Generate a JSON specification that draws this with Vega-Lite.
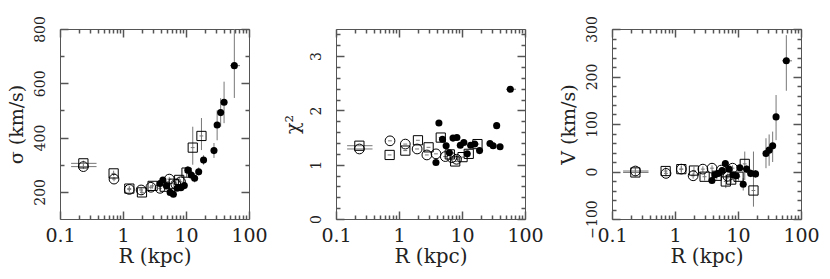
{
  "$schema": "https://vega.github.io/schema/vega-lite/v6.json",
  "padding": {"left": 6, "top": 15, "right": 5, "bottom": 0},
  "bounds": "flush",
  "spacing": 87,
  "config": {
    "view": {"stroke": "#555", "strokeWidth": 1},
    "axis": {
      "domain": false, "grid": false,
      "labelFont": "DejaVu Serif", "labelColor": "#222",
      "titleFont": "DejaVu Serif", "titleFontWeight": "normal", "titleColor": "#222",
      "tickColor": "#555", "tickWidth": 1.5, "labelOverlap": false, "labelFlush": false
    }
  },
  "datasets": {
    "pts": [
      {"s":"open","R":0.235,"Rlo":0.15,"Rhi":0.38,"sig":293,"sigLo":285,"sigHi":301,"chi":1.29,"V":1,"VLo":-5,"VHi":7},
      {"s":"open","R":0.72,"Rlo":0.67,"Rhi":0.77,"sig":247,"sigLo":239,"sigHi":255,"chi":1.44,"V":-4,"VLo":-10,"VHi":2},
      {"s":"open","R":1.26,"Rlo":1.17,"Rhi":1.35,"sig":209,"sigLo":201,"sigHi":217,"chi":1.38,"V":5,"VLo":-1,"VHi":11},
      {"s":"open","R":1.94,"Rlo":1.80,"Rhi":2.08,"sig":207,"sigLo":199,"sigHi":215,"chi":1.29,"V":-9,"VLo":-15,"VHi":-3},
      {"s":"open","R":2.77,"Rlo":2.58,"Rhi":2.96,"sig":217,"sigLo":209,"sigHi":225,"chi":1.18,"V":5,"VLo":-1,"VHi":11},
      {"s":"open","R":3.87,"Rlo":3.60,"Rhi":4.14,"sig":213,"sigLo":205,"sigHi":221,"chi":1.20,"V":7,"VLo":1,"VHi":13},
      {"s":"open","R":5.43,"Rlo":5.05,"Rhi":5.81,"sig":247,"sigLo":239,"sigHi":255,"chi":1.15,"V":3,"VLo":-3,"VHi":9},
      {"s":"open","R":6.9,"Rlo":6.42,"Rhi":7.38,"sig":228,"sigLo":220,"sigHi":236,"chi":1.13,"V":-10,"VLo":-16,"VHi":-4},
      {"s":"open","R":8.2,"Rlo":7.63,"Rhi":8.77,"sig":237,"sigLo":229,"sigHi":245,"chi":1.10,"V":7,"VLo":1,"VHi":13},
      {"s":"box","R":0.235,"Rlo":0.15,"Rhi":0.38,"sig":305,"sigLo":295,"sigHi":315,"chi":1.35,"V":-2,"VLo":-10,"VHi":6},
      {"s":"box","R":0.71,"Rlo":0.66,"Rhi":0.76,"sig":268,"sigLo":258,"sigHi":278,"chi":1.18,"V":1,"VLo":-7,"VHi":9},
      {"s":"box","R":1.26,"Rlo":1.17,"Rhi":1.35,"sig":212,"sigLo":202,"sigHi":222,"chi":1.26,"V":5,"VLo":-3,"VHi":13},
      {"s":"box","R":2.0,"Rlo":1.86,"Rhi":2.14,"sig":198,"sigLo":188,"sigHi":208,"chi":1.45,"V":2,"VLo":-6,"VHi":10},
      {"s":"box","R":2.95,"Rlo":2.74,"Rhi":3.16,"sig":222,"sigLo":212,"sigHi":232,"chi":1.32,"V":-11,"VLo":-19,"VHi":-3},
      {"s":"box","R":4.6,"Rlo":4.28,"Rhi":4.92,"sig":219,"sigLo":209,"sigHi":229,"chi":1.50,"V":-9,"VLo":-17,"VHi":-1},
      {"s":"box","R":6.4,"Rlo":5.95,"Rhi":6.85,"sig":230,"sigLo":220,"sigHi":240,"chi":1.19,"V":-21,"VLo":-35,"VHi":-7},
      {"s":"box","R":7.8,"Rlo":7.25,"Rhi":8.35,"sig":244,"sigLo":234,"sigHi":254,"chi":1.06,"V":-17,"VLo":-25,"VHi":-9},
      {"s":"box","R":10.2,"Rlo":9.49,"Rhi":10.9,"sig":271,"sigLo":255,"sigHi":290,"chi":1.14,"V":-11,"VLo":-19,"VHi":-3},
      {"s":"box","R":12.8,"Rlo":11.9,"Rhi":13.7,"sig":363,"sigLo":300,"sigHi":440,"chi":1.20,"V":16,"VLo":-18,"VHi":42},
      {"s":"box","R":17.6,"Rlo":16.4,"Rhi":18.8,"sig":406,"sigLo":354,"sigHi":472,"chi":1.38,"V":-40,"VLo":-74,"VHi":42},
      {"s":"dot","R":3.86,"Rlo":3.67,"Rhi":4.05,"sig":231,"sigLo":225,"sigHi":237,"chi":1.04,"V":-19,"VLo":-25,"VHi":-13},
      {"s":"dot","R":4.3,"Rlo":4.09,"Rhi":4.52,"sig":244,"sigLo":238,"sigHi":250,"chi":1.77,"V":-7,"VLo":-13,"VHi":-1},
      {"s":"dot","R":4.9,"Rlo":4.66,"Rhi":5.15,"sig":222,"sigLo":216,"sigHi":228,"chi":1.47,"V":-4,"VLo":-10,"VHi":2},
      {"s":"dot","R":5.6,"Rlo":5.32,"Rhi":5.88,"sig":198,"sigLo":192,"sigHi":204,"chi":1.35,"V":2,"VLo":-4,"VHi":8},
      {"s":"dot","R":6.3,"Rlo":5.99,"Rhi":6.62,"sig":191,"sigLo":185,"sigHi":197,"chi":1.22,"V":17,"VLo":11,"VHi":23},
      {"s":"dot","R":7.2,"Rlo":6.84,"Rhi":7.56,"sig":213,"sigLo":207,"sigHi":219,"chi":1.49,"V":5,"VLo":-1,"VHi":11},
      {"s":"dot","R":8.3,"Rlo":7.89,"Rhi":8.72,"sig":215,"sigLo":209,"sigHi":221,"chi":1.50,"V":-7,"VLo":-13,"VHi":-1},
      {"s":"dot","R":9.4,"Rlo":8.93,"Rhi":9.87,"sig":223,"sigLo":217,"sigHi":229,"chi":1.36,"V":-9,"VLo":-15,"VHi":-3},
      {"s":"dot","R":10.7,"Rlo":10.2,"Rhi":11.2,"sig":280,"sigLo":265,"sigHi":295,"chi":1.41,"V":8,"VLo":2,"VHi":14},
      {"s":"dot","R":12.1,"Rlo":11.5,"Rhi":12.7,"sig":262,"sigLo":245,"sigHi":280,"chi":1.20,"V":-27,"VLo":-40,"VHi":-14},
      {"s":"dot","R":13.7,"Rlo":13.0,"Rhi":14.4,"sig":250,"sigLo":235,"sigHi":268,"chi":1.36,"V":5,"VLo":-3,"VHi":13},
      {"s":"dot","R":15.9,"Rlo":15.1,"Rhi":16.7,"sig":274,"sigLo":260,"sigHi":290,"chi":1.38,"V":-4,"VLo":-12,"VHi":4},
      {"s":"dot","R":19.0,"Rlo":18.1,"Rhi":19.9,"sig":317,"sigLo":300,"sigHi":335,"chi":1.26,"V":-5,"VLo":-13,"VHi":3},
      {"s":"dot","R":27.8,"Rlo":26.4,"Rhi":29.2,"sig":352,"sigLo":325,"sigHi":380,"chi":1.39,"V":38,"VLo":7,"VHi":70},
      {"s":"dot","R":31.2,"Rlo":29.6,"Rhi":32.8,"sig":446,"sigLo":390,"sigHi":500,"chi":1.35,"V":45,"VLo":12,"VHi":78},
      {"s":"dot","R":35.5,"Rlo":33.7,"Rhi":37.3,"sig":492,"sigLo":440,"sigHi":545,"chi":1.72,"V":54,"VLo":20,"VHi":84},
      {"s":"dot","R":40.2,"Rlo":38.2,"Rhi":42.2,"sig":530,"sigLo":453,"sigHi":606,"chi":1.33,"V":115,"VLo":66,"VHi":161},
      {"s":"dot","R":58.5,"Rlo":50,"Rhi":72,"sig":665,"sigLo":546,"sigHi":820,"chi":2.39,"V":233,"VLo":170,"VHi":287}
    ]
  },
  "hconcat": [
    {
      "width": 189, "height": 190,
      "data": {"name": "pts"},
      "resolve": {"axis": {"x": "independent", "y": "independent"}},
      "layer": [
        {"mark": {"type": "rule", "color": "#777", "strokeWidth": 1, "clip": true},
         "encoding": {
           "x": {"field": "Rlo", "type": "quantitative", "scale": {"type": "log", "domain": [0.1, 100], "nice": false},
                 "axis": {"orient": "bottom", "offset": -8, "title": "R (kpc)", "values": [0.1, 1, 10, 100], "labelExpr": "datum.value == 0.1 ? '0.1' : format(datum.value, 'd')",
                          "tickSize": 8, "labelPadding": 7, "titlePadding": 1, "labelFontSize": 19, "titleFontSize": 20}},
           "x2": {"field": "Rhi"},
           "y": {"field": "sig", "type": "quantitative", "scale": {"domain": [100, 800], "nice": false, "zero": false},
                 "axis": {"orient": "left", "offset": -8, "title": "σ (km/s)", "values": [200, 400, 600, 800], "labelExpr": "format(datum.value, 'd')",
                          "labelAngle": 270, "labelAlign": "center", "labelBaseline": "bottom",
                          "tickSize": 8, "labelPadding": 13, "titlePadding": 7, "labelFontSize": 14, "titleFontSize": 19}}
         }},
        {"mark": {"type": "rule", "color": "#777", "strokeWidth": 1, "clip": true},
         "encoding": {
           "x": {"field": "R", "type": "quantitative", "scale": {"type": "log", "domain": [0.1, 100], "nice": false},
                 "axis": {"orient": "top", "offset": -8, "title": null, "labels": false, "values": [0.1, 1, 10, 100], "tickSize": 8}},
           "y": {"field": "sigLo", "type": "quantitative", "scale": {"domain": [100, 800], "nice": false, "zero": false},
                 "axis": {"orient": "right", "offset": -8, "title": null, "labels": false, "values": [200, 400, 600, 800], "tickSize": 8}},
           "y2": {"field": "sigHi"}
         }},
        {"transform": [{"filter": "datum.s == 'open'"}],
         "mark": {"type": "point", "shape": "circle", "size": 95, "filled": false, "stroke": "#000", "strokeWidth": 1, "opacity": 1, "clip": true},
         "encoding": {
           "x": {"field": "R", "type": "quantitative", "scale": {"type": "log", "domain": [0.1, 100], "nice": false},
                 "axis": {"orient": "bottom", "offset": -4, "title": null, "labels": false, "values": [0.2,0.3,0.4,0.5,0.6,0.7,0.8,0.9,2,3,4,5,6,7,8,9,20,30,40,50,60,70,80,90], "tickSize": 4}},
           "y": {"field": "sig", "type": "quantitative", "scale": {"domain": [100, 800], "nice": false, "zero": false},
                 "axis": {"orient": "left", "offset": -4, "title": null, "labels": false, "values": [300, 500, 700], "tickSize": 4}}
         }},
        {"transform": [{"filter": "datum.s == 'box'"}],
         "mark": {"type": "point", "shape": "square", "size": 85, "filled": false, "stroke": "#000", "strokeWidth": 1, "opacity": 1, "clip": true},
         "encoding": {
           "x": {"field": "R", "type": "quantitative", "scale": {"type": "log", "domain": [0.1, 100], "nice": false},
                 "axis": {"orient": "top", "offset": -4, "title": null, "labels": false, "values": [0.2,0.3,0.4,0.5,0.6,0.7,0.8,0.9,2,3,4,5,6,7,8,9,20,30,40,50,60,70,80,90], "tickSize": 4}},
           "y": {"field": "sig", "type": "quantitative", "scale": {"domain": [100, 800], "nice": false, "zero": false},
                 "axis": {"orient": "right", "offset": -4, "title": null, "labels": false, "values": [300, 500, 700], "tickSize": 4}}
         }},
        {"transform": [{"filter": "datum.s == 'dot'"}],
         "mark": {"type": "point", "shape": "circle", "size": 50, "filled": true, "fill": "#000", "opacity": 1, "clip": true},
         "encoding": {
           "x": {"field": "R", "type": "quantitative", "scale": {"type": "log", "domain": [0.1, 100], "nice": false}, "axis": null},
           "y": {"field": "sig", "type": "quantitative", "scale": {"domain": [100, 800], "nice": false, "zero": false}, "axis": null}
         }}
      ]
    },
    {
      "width": 189, "height": 190,
      "data": {"name": "pts"},
      "resolve": {"axis": {"x": "independent", "y": "independent"}},
      "layer": [
        {"mark": {"type": "rule", "color": "#777", "strokeWidth": 1, "clip": true},
         "encoding": {
           "x": {"field": "Rlo", "type": "quantitative", "scale": {"type": "log", "domain": [0.1, 100], "nice": false},
                 "axis": {"orient": "bottom", "offset": -8, "title": "R (kpc)", "values": [0.1, 1, 10, 100], "labelExpr": "datum.value == 0.1 ? '0.1' : format(datum.value, 'd')",
                          "tickSize": 8, "labelPadding": 7, "titlePadding": 1, "labelFontSize": 19, "titleFontSize": 20}},
           "x2": {"field": "Rhi"},
           "y": {"field": "chi", "type": "quantitative", "scale": {"domain": [0, 3.5], "nice": false, "zero": false},
                 "axis": {"orient": "left", "offset": -8, "title": "χ²", "values": [0, 1, 2, 3], "labelExpr": "format(datum.value, 'd')",
                          "labelAngle": 270, "labelAlign": "center", "labelBaseline": "bottom",
                          "tickSize": 8, "labelPadding": 13, "titlePadding": 7, "labelFontSize": 14, "titleFontSize": 19}}
         }},
        {"mark": {"type": "rule", "color": "#777", "strokeWidth": 1, "clip": true},
         "encoding": {
           "x": {"field": "R", "type": "quantitative", "scale": {"type": "log", "domain": [0.1, 100], "nice": false},
                 "axis": {"orient": "top", "offset": -8, "title": null, "labels": false, "values": [0.1, 1, 10, 100], "tickSize": 8}},
           "y": {"field": "chi", "type": "quantitative", "scale": {"domain": [0, 3.5], "nice": false, "zero": false},
                 "axis": {"orient": "right", "offset": -8, "title": null, "labels": false, "values": [0, 1, 2, 3], "tickSize": 8}},
           "y2": {"field": "chi"}
         }},
        {"transform": [{"filter": "datum.s == 'open'"}],
         "mark": {"type": "point", "shape": "circle", "size": 95, "filled": false, "stroke": "#000", "strokeWidth": 1, "opacity": 1, "clip": true},
         "encoding": {
           "x": {"field": "R", "type": "quantitative", "scale": {"type": "log", "domain": [0.1, 100], "nice": false},
                 "axis": {"orient": "bottom", "offset": -4, "title": null, "labels": false, "values": [0.2,0.3,0.4,0.5,0.6,0.7,0.8,0.9,2,3,4,5,6,7,8,9,20,30,40,50,60,70,80,90], "tickSize": 4}},
           "y": {"field": "chi", "type": "quantitative", "scale": {"domain": [0, 3.5], "nice": false, "zero": false},
                 "axis": {"orient": "left", "offset": -4, "title": null, "labels": false, "values": [0.2,0.4,0.6,0.8,1.2,1.4,1.6,1.8,2.2,2.4,2.6,2.8,3.2,3.4], "tickSize": 4}}
         }},
        {"transform": [{"filter": "datum.s == 'box'"}],
         "mark": {"type": "point", "shape": "square", "size": 85, "filled": false, "stroke": "#000", "strokeWidth": 1, "opacity": 1, "clip": true},
         "encoding": {
           "x": {"field": "R", "type": "quantitative", "scale": {"type": "log", "domain": [0.1, 100], "nice": false},
                 "axis": {"orient": "top", "offset": -4, "title": null, "labels": false, "values": [0.2,0.3,0.4,0.5,0.6,0.7,0.8,0.9,2,3,4,5,6,7,8,9,20,30,40,50,60,70,80,90], "tickSize": 4}},
           "y": {"field": "chi", "type": "quantitative", "scale": {"domain": [0, 3.5], "nice": false, "zero": false},
                 "axis": {"orient": "right", "offset": -4, "title": null, "labels": false, "values": [0.2,0.4,0.6,0.8,1.2,1.4,1.6,1.8,2.2,2.4,2.6,2.8,3.2,3.4], "tickSize": 4}}
         }},
        {"transform": [{"filter": "datum.s == 'dot'"}],
         "mark": {"type": "point", "shape": "circle", "size": 50, "filled": true, "fill": "#000", "opacity": 1, "clip": true},
         "encoding": {
           "x": {"field": "R", "type": "quantitative", "scale": {"type": "log", "domain": [0.1, 100], "nice": false}, "axis": null},
           "y": {"field": "chi", "type": "quantitative", "scale": {"domain": [0, 3.5], "nice": false, "zero": false}, "axis": null}
         }}
      ]
    },
    {
      "width": 189, "height": 190,
      "data": {"name": "pts"},
      "resolve": {"axis": {"x": "independent", "y": "independent"}},
      "layer": [
        {"mark": {"type": "rule", "color": "#777", "strokeWidth": 1, "clip": true},
         "encoding": {
           "x": {"field": "Rlo", "type": "quantitative", "scale": {"type": "log", "domain": [0.1, 100], "nice": false},
                 "axis": {"orient": "bottom", "offset": -8, "title": "R (kpc)", "values": [0.1, 1, 10, 100], "labelExpr": "datum.value == 0.1 ? '0.1' : format(datum.value, 'd')",
                          "tickSize": 8, "labelPadding": 7, "titlePadding": 1, "labelFontSize": 19, "titleFontSize": 20}},
           "x2": {"field": "Rhi"},
           "y": {"field": "V", "type": "quantitative", "scale": {"domain": [-100, 300], "nice": false, "zero": false},
                 "axis": {"orient": "left", "offset": -8, "title": "V (km/s)", "values": [-100, 0, 100, 200, 300], "labelExpr": "format(datum.value, 'd')",
                          "labelAngle": 270, "labelAlign": "center", "labelBaseline": "bottom",
                          "tickSize": 8, "labelPadding": 13, "titlePadding": 7, "labelFontSize": 14, "titleFontSize": 19}}
         }},
        {"mark": {"type": "rule", "color": "#777", "strokeWidth": 1, "clip": true},
         "encoding": {
           "x": {"field": "R", "type": "quantitative", "scale": {"type": "log", "domain": [0.1, 100], "nice": false},
                 "axis": {"orient": "top", "offset": -8, "title": null, "labels": false, "values": [0.1, 1, 10, 100], "tickSize": 8}},
           "y": {"field": "VLo", "type": "quantitative", "scale": {"domain": [-100, 300], "nice": false, "zero": false},
                 "axis": {"orient": "right", "offset": -8, "title": null, "labels": false, "values": [-100, 0, 100, 200, 300], "tickSize": 8}},
           "y2": {"field": "VHi"}
         }},
        {"transform": [{"filter": "datum.s == 'open'"}],
         "mark": {"type": "point", "shape": "circle", "size": 95, "filled": false, "stroke": "#000", "strokeWidth": 1, "opacity": 1, "clip": true},
         "encoding": {
           "x": {"field": "R", "type": "quantitative", "scale": {"type": "log", "domain": [0.1, 100], "nice": false},
                 "axis": {"orient": "bottom", "offset": -4, "title": null, "labels": false, "values": [0.2,0.3,0.4,0.5,0.6,0.7,0.8,0.9,2,3,4,5,6,7,8,9,20,30,40,50,60,70,80,90], "tickSize": 4}},
           "y": {"field": "V", "type": "quantitative", "scale": {"domain": [-100, 300], "nice": false, "zero": false},
                 "axis": {"orient": "left", "offset": -4, "title": null, "labels": false, "values": [-80,-60,-40,-20,20,40,60,80,120,140,160,180,220,240,260,280], "tickSize": 4}}
         }},
        {"transform": [{"filter": "datum.s == 'box'"}],
         "mark": {"type": "point", "shape": "square", "size": 85, "filled": false, "stroke": "#000", "strokeWidth": 1, "opacity": 1, "clip": true},
         "encoding": {
           "x": {"field": "R", "type": "quantitative", "scale": {"type": "log", "domain": [0.1, 100], "nice": false},
                 "axis": {"orient": "top", "offset": -4, "title": null, "labels": false, "values": [0.2,0.3,0.4,0.5,0.6,0.7,0.8,0.9,2,3,4,5,6,7,8,9,20,30,40,50,60,70,80,90], "tickSize": 4}},
           "y": {"field": "V", "type": "quantitative", "scale": {"domain": [-100, 300], "nice": false, "zero": false},
                 "axis": {"orient": "right", "offset": -4, "title": null, "labels": false, "values": [-80,-60,-40,-20,20,40,60,80,120,140,160,180,220,240,260,280], "tickSize": 4}}
         }},
        {"transform": [{"filter": "datum.s == 'dot'"}],
         "mark": {"type": "point", "shape": "circle", "size": 50, "filled": true, "fill": "#000", "opacity": 1, "clip": true},
         "encoding": {
           "x": {"field": "R", "type": "quantitative", "scale": {"type": "log", "domain": [0.1, 100], "nice": false}, "axis": null},
           "y": {"field": "V", "type": "quantitative", "scale": {"domain": [-100, 300], "nice": false, "zero": false}, "axis": null}
         }}
      ]
    }
  ]
}
